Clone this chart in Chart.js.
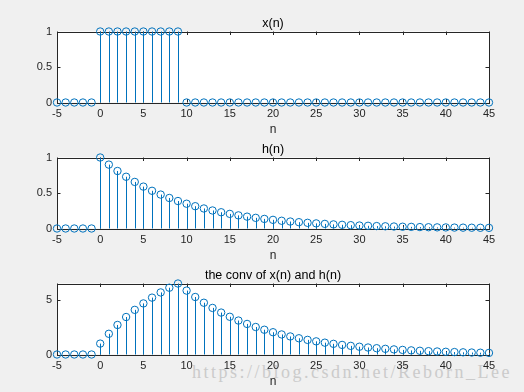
<!DOCTYPE html>
<html>
<head>
<meta charset="utf-8">
<script src="https://cdn.jsdelivr.net/npm/chart.js@4"></script>
<style>
  html, body { margin: 0; padding: 0; background: #f0f0f0; }
  #wrap { position: relative; width: 524px; height: 392px; overflow: hidden; background: #f0f0f0; }
  .cv { position: absolute; left: 0; width: 524px; height: 137px; }
  #wm { position: absolute; left: 192px; top: 361px; font-family: "Liberation Serif", "DejaVu Serif", serif; font-size: 18px;
        color: #cbcbcb; white-space: nowrap; line-height: 22px; }
</style>
</head>
<body>
<div id="wrap">
  <div id="wm">https://blog.csdn.net/Reborn_Lee</div>
  <div class="cv" style="top:0px"><canvas id="c1"></canvas></div>
  <div class="cv" style="top:126px"><canvas id="c2"></canvas></div>
  <div class="cv" style="top:252px"><canvas id="c3"></canvas></div>
</div>
<script>
// sample index n
const n = [-5,-4,-3,-2,-1,0,1,2,3,4,5,6,7,8,9,10,11,12,13,14,15,16,17,18,19,20,
           21,22,23,24,25,26,27,28,29,30,31,32,33,34,35,36,37,38,39,40,41,42,43,44,45];
// x(n)
const xn = [0,0,0,0,0,1,1,1,1,1,1,1,1,1,1,0,0,0,0,0,0,0,0,0,0,0,
            0,0,0,0,0,0,0,0,0,0,0,0,0,0,0,0,0,0,0,0,0,0,0,0,0];
// h(n)
const hn = [0,0,0,0,0,1,0.9,0.81,0.729,0.656,0.590,0.531,0.478,0.430,0.387,0.349,0.314,0.282,0.254,0.229,0.206,
            0.185,0.167,0.150,0.135,0.122,0.109,0.098,0.089,0.080,0.072,0.065,0.058,0.052,0.047,0.042,
            0.038,0.034,0.031,0.028,0.025,0.023,0.020,0.018,0.016,0.015,0.013,0.012,0.011,0.010,0.009];
// y(n) = x(n) * h(n)
const yn = [0,0,0,0,0,1,1.9,2.71,3.439,4.095,4.686,5.217,5.695,6.126,6.513,5.862,5.276,4.748,4.273,3.846,3.461,
            3.115,2.804,2.523,2.271,2.044,1.840,1.656,1.490,1.341,1.207,1.086,0.978,0.880,0.792,0.713,
            0.641,0.577,0.520,0.468,0.421,0.379,0.341,0.307,0.276,0.249,0.224,0.201,0.181,0.163,0.147];
const xTicks = [-5,0,5,10,15,20,25,30,35,40,45];
const yTicks1 = [0,0.5,1];
const yTicks3 = [0,5];

const BLUE = '#0072BD';
const AX = '#262626';
const FONT = '"Liberation Sans", Arial, sans-serif';

// fit the watermark to its measured width in the reference
(function () {
  const wm = document.getElementById('wm');
  const target = 320;
  const w = wm.getBoundingClientRect().width;
  const chars = wm.textContent.length;
  wm.style.letterSpacing = ((target - w) / chars) + 'px';
})();

const boxPlugin = {
  id: 'matlabBox',
  beforeDraw(chart) {
    const {ctx, chartArea: a} = chart;
    ctx.save();
    ctx.fillStyle = '#ffffff';
    ctx.fillRect(a.left, a.top, a.right - a.left, a.bottom - a.top);
    ctx.restore();
  },
  beforeDatasetsDraw(chart) {
    const {ctx, chartArea: a, scales} = chart;
    ctx.save();
    ctx.strokeStyle = AX;
    ctx.lineWidth = 1;
    ctx.strokeRect(Math.round(a.left) + 0.5, Math.round(a.top) + 0.5,
                   Math.round(a.right) - Math.round(a.left), Math.round(a.bottom) - Math.round(a.top));
    const tl = 3.5;
    ctx.beginPath();
    scales.x.ticks.forEach(t => {
      const px = Math.round(scales.x.getPixelForValue(t.value)) + 0.5;
      ctx.moveTo(px, a.bottom); ctx.lineTo(px, a.bottom - tl);
      ctx.moveTo(px, a.top); ctx.lineTo(px, a.top + tl);
    });
    scales.y.ticks.forEach(t => {
      const py = Math.round(scales.y.getPixelForValue(t.value)) + 0.5;
      ctx.moveTo(a.left, py); ctx.lineTo(a.left + tl, py);
      ctx.moveTo(a.right, py); ctx.lineTo(a.right - tl, py);
    });
    ctx.stroke();
    // stems, from the baseline (y = 0) to each point, through the library's scales
    const meta = chart.getDatasetMeta(0);
    const y0 = scales.y.getPixelForValue(0);
    ctx.strokeStyle = BLUE;
    ctx.beginPath();
    meta.data.forEach(p => {
      const px = Math.round(p.x) + 0.5;
      if (Math.abs(y0 - p.y) > 0.5) { ctx.moveTo(px, y0); ctx.lineTo(px, p.y); }
    });
    ctx.stroke();
    ctx.restore();
  }
};

function makeChart(id, title, vals, yMax, yTickList) {
  const pts = n.map((v, i) => ({x: v, y: vals[i]}));
  return new Chart(document.getElementById(id), {
    type: 'scatter',
    data: {
      datasets: [
        { data: pts, showLine: false, pointStyle: 'circle', pointRadius: 3.7,
          pointBorderWidth: 1, pointBorderColor: BLUE, pointBackgroundColor: 'rgba(0,0,0,0)',
          pointHoverRadius: 3.7, clip: false }
      ]
    },
    options: {
      responsive: true, maintainAspectRatio: false, animation: false,
      events: [],
      layout: { padding: { left: 0, right: 35, top: 0, bottom: 0 } },
      plugins: {
        legend: { display: false }, tooltip: { enabled: false },
        title: { display: true, fullSize: false, text: title, color: '#000',
                 font: { family: FONT, size: 12.5, weight: 'normal', lineHeight: 1.2 },
                 padding: { top: 16.5, bottom: 0 } }
      },
      scales: {
        x: {
          type: 'linear', min: -5, max: 45, offset: false,
          grid: { display: false, drawTicks: false }, border: { display: false },
          afterBuildTicks(s) { s.ticks = xTicks.map(v => ({value: v})); },
          afterFit(s) { s.height = 34.5; },
          ticks: { color: AX, font: { family: FONT, size: 11 }, padding: 5, maxRotation: 0, autoSkip: false,
                   callback: v => String(v) },
          title: { display: true, text: 'n', color: AX, font: { family: FONT, size: 12 }, padding: 0 }
        },
        y: {
          type: 'linear', min: 0, max: yMax,
          grid: { display: false, drawTicks: false }, border: { display: false },
          afterBuildTicks(s) { s.ticks = yTickList.map(v => ({value: v})); },
          afterFit(s) { s.width = 57; },
          ticks: { color: AX, font: { family: FONT, size: 11 }, padding: 5, includeBounds: false,
                   callback: v => String(v) }
        }
      }
    },
    plugins: [boxPlugin]
  });
}

makeChart('c1', 'x(n)', xn, 1, yTicks1);
makeChart('c2', 'h(n)', hn, 1, yTicks1);
makeChart('c3', 'the conv of x(n) and h(n)', yn, 6.513, yTicks3);
</script>
</body>
</html>
